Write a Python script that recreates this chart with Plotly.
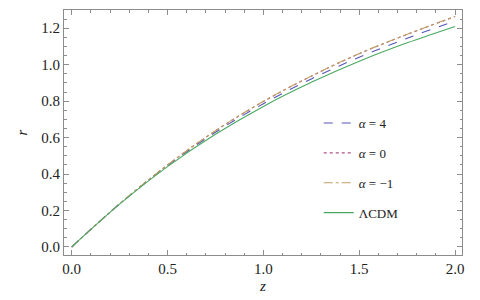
import plotly.graph_objects as go

z = [0.0, 0.25, 0.5, 0.75, 1.0, 1.25, 1.5, 1.75, 2.0]
r_alpha4 = [0.0, 0.236, 0.446, 0.629, 0.786, 0.922, 1.041, 1.145, 1.240]
r_alpha0 = [0.0, 0.237, 0.450, 0.637, 0.798, 0.937, 1.060, 1.166, 1.264]
r_alpham1 = [0.0, 0.237, 0.450, 0.638, 0.799, 0.938, 1.061, 1.167, 1.265]
r_lcdm = [0.0, 0.235, 0.441, 0.618, 0.771, 0.903, 1.019, 1.120, 1.210]

names = ["<i>α</i> = 4", "<i>α</i> = 0", "<i>α</i> = −1", "ΛCDM"]
series = [r_alpha4, r_alpha0, r_alpham1, r_lcdm]
colors = ["#5555b8", "#b0508a", "#c0a060", "#4aa862"]
dashes = ["dash", "dot", "dashdot", "solid"]

fig = go.Figure()
for i, (nm, ys, c, d) in enumerate(zip(names, series, colors, dashes)):
    fig.add_trace(go.Scatter(x=z, y=ys, mode="lines", name=nm,
                             line=dict(color=c, dash=d, width=1.1, shape="spline"),
                             legendgroup=f"g{i}"))

font = "Times New Roman"
axcommon = dict(showgrid=False, zeroline=False, showline=True, linecolor="#8c8c8c",
                linewidth=1, mirror="ticks", ticks="inside", ticklen=5,
                tickcolor="#8c8c8c", tickfont=dict(family=font, size=15, color="#222"))
fig.update_layout(
    width=480, height=300,
    margin=dict(l=56, r=26, t=2, b=53),
    plot_bgcolor="white", paper_bgcolor="white",
    font=dict(family=font, size=13, color="#222"),
    xaxis=dict(range=[-0.04, 2.036], tickvals=[0, 0.5, 1.0, 1.5, 2.0],
               ticktext=["0.0", "0.5", "1.0", "1.5", "2.0"],
               minor=dict(dtick=0.1, tick0=0, ticks="inside", ticklen=2.5, tickcolor="#8c8c8c"),
               title=dict(text="<i>z</i>", font=dict(family=font, size=15), standoff=4),
               **axcommon),
    yaxis=dict(range=[-0.044, 1.30], tickvals=[0, 0.2, 0.4, 0.6, 0.8, 1.0, 1.2],
               ticktext=["0.0", "0.2", "0.4", "0.6", "0.8", "1.0", "1.2"],
               minor=dict(dtick=0.05, tick0=0, ticks="inside", ticklen=2.5, tickcolor="#8c8c8c"),
               title=dict(text="<i>r</i>", font=dict(family=font, size=15), standoff=10),
               **axcommon),
    legend=dict(x=0.64, y=0.60, xanchor="left", yanchor="top",
                bgcolor="rgba(0,0,0,0)", font=dict(family=font, size=13),
                tracegroupgap=10, itemwidth=30),
)
fig.write_html("out.html")
